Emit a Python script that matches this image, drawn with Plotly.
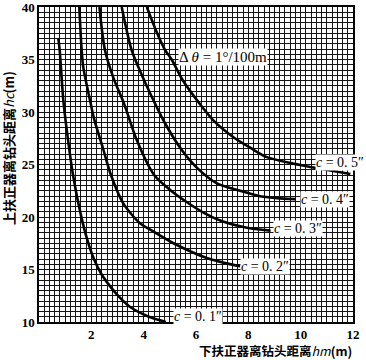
import plotly.graph_objects as go

# Curves: hm (x, m) vs hc (y, m)
c01_hm = [0.74, 0.79, 0.93, 1.06, 1.30, 1.60, 1.85, 2.10, 2.40, 2.75, 3.10, 3.50, 4.20, 4.85]
c01_hc = [37.0, 35.9, 31.1, 28.3, 24.0, 20.2, 17.8, 16.0, 14.5, 13.3, 12.3, 11.4, 10.5, 10.0]

c02_hm = [1.54, 1.63, 1.69, 1.95, 2.10, 2.45, 2.75, 3.22, 3.86, 4.25, 5.14, 6.41, 7.69]
c02_hc = [40.0, 35.9, 34.3, 31.1, 29.4, 26.5, 24.0, 21.3, 19.4, 18.8, 17.5, 16.1, 15.3]

c03_hm = [2.31, 2.52, 2.85, 3.25, 3.74, 4.40, 5.00, 5.60, 6.30, 7.00, 7.90, 8.85]
c03_hc = [40.0, 35.9, 33.2, 30.8, 27.3, 24.0, 22.6, 21.5, 20.4, 19.6, 19.0, 18.7]

c04_hm = [3.16, 3.54, 3.90, 4.30, 4.80, 5.45, 6.03, 6.80, 7.69, 8.40, 9.09, 9.80]
c04_hc = [40.0, 35.9, 33.7, 31.5, 29.0, 26.4, 24.7, 23.2, 22.5, 22.0, 21.8, 21.7]

c05_hm = [4.12, 4.50, 4.82, 5.07, 5.50, 6.20, 6.70, 7.43, 8.07, 8.71, 9.70, 10.75, 11.90]
c05_hc = [40.0, 37.6, 35.9, 35.0, 33.0, 30.6, 29.1, 27.6, 26.6, 25.7, 25.1, 24.6, 24.1]

curves = [(c01_hm, c01_hc), (c02_hm, c02_hc), (c03_hm, c03_hc),
          (c04_hm, c04_hc), (c05_hm, c05_hc)]
curve_labels = ["0. 1", "0. 2", "0. 3", "0. 4", "0. 5"]

x_tickvals = [2, 4, 6, 8, 10, 12]
y_tickvals = [10, 15, 20, 25, 30, 35, 40]

W, H = 366, 360
L, R, T, B = 39, 13, 7, 38
pw, ph = W - L - R, H - T - B

fig = go.Figure()
for hm, hc in curves:
    fig.add_trace(go.Scatter(x=hm, y=hc, mode="lines",
                             line=dict(color="black", width=2.6, shape="spline", smoothing=0.8),
                             showlegend=False, hoverinfo="skip"))

serif = "Liberation Serif"
label_pos = [(6.08, 10.5), (8.64, 15.25), (9.9, 18.95), (10.94, 21.7), (11.5, 25.15)]
for (lx, ly), t in zip(label_pos, curve_labels):
    fig.add_annotation(x=lx, y=ly, xref="x", yref="y",
                       xanchor="center", yanchor="middle",
                       text="<i>c</i> = " + t + "″", showarrow=False,
                       font=dict(family=serif, size=14, color="black"),
                       bgcolor="white", borderpad=0)

fig.add_annotation(x=7.04, y=35.2, xref="x", yref="y",
                   xanchor="center", yanchor="middle",
                   text="Δ <i>θ</i> = 1°/100m", showarrow=False,
                   font=dict(family=serif, size=15, color="black"),
                   bgcolor="white", borderpad=0)


def px_to_paper(px, py):
    return (px - L) / pw, 1 - (py - T) / ph


cjk = "Noto Sans CJK SC"
xt_x, xt_y = px_to_paper(275, 351)
fig.add_annotation(x=xt_x, y=xt_y, xref="paper", yref="paper",
                   xanchor="center", yanchor="middle",
                   text="<b>下扶正器离钻头距离</b><i>hm</i><b>(m)</b>", showarrow=False,
                   font=dict(family=cjk, size=12.5, color="black"))
yt_x, yt_y = px_to_paper(8, 148)
fig.add_annotation(x=yt_x, y=yt_y, xref="paper", yref="paper",
                   xanchor="center", yanchor="middle", textangle=-90,
                   text="<b>上扶正器离钻头距离</b><i>hc</i><b>(m)</b>", showarrow=False,
                   font=dict(family=cjk, size=13, color="black"))

gc = "#141414"
common = dict(ticks="", automargin=False, ticklabeloverflow="allow",
              showgrid=True, gridcolor=gc, gridwidth=1.2,
              showline=True, linecolor="black", linewidth=1.5, mirror=True,
              zeroline=False,
              tickfont=dict(family=serif, size=13, color="black", weight="bold"))
fig.update_xaxes(range=[0, 12], tickvals=x_tickvals, ticklabelstandoff=0,
                 minor=dict(dtick=0.2, tick0=0, showgrid=True, gridcolor=gc, gridwidth=1.2),
                 **common)
fig.update_yaxes(range=[10, 40], tickvals=y_tickvals,
                 minor=dict(dtick=0.5, tick0=10, showgrid=True, gridcolor=gc, gridwidth=1.2),
                 **common)

fig.update_layout(width=W, height=H, margin=dict(l=L, r=R, t=T, b=B, autoexpand=False),
                  plot_bgcolor="white", paper_bgcolor="white", showlegend=False)

fig.write_html("out.html", config={"displayModeBar": False},
               post_script="document.body.style.margin='0';document.body.style.overflow='hidden';")
